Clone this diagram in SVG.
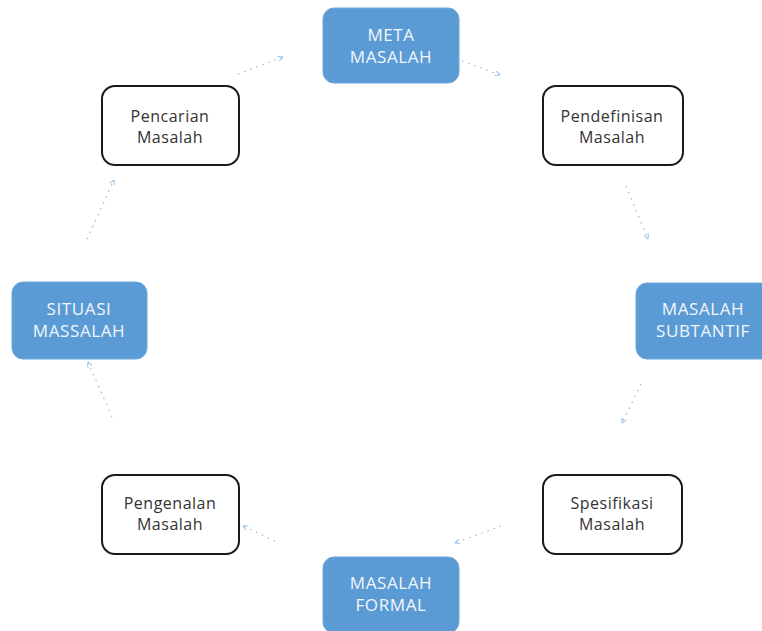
<svg xmlns="http://www.w3.org/2000/svg" width="762" height="631" viewBox="0 0 762 631">
<style>
.blue rect{fill:#5b9bd5;stroke:#6fa8dc;stroke-width:1}
.blue text{fill:#f2f6fb;font-family:"Open Sans","Liberation Sans",sans-serif;font-size:17px;text-anchor:middle;letter-spacing:0.6px}
.white rect{fill:#fff;stroke:#1a1a1a;stroke-width:2}
.white text{fill:#333;font-family:"Open Sans","Liberation Sans",sans-serif;font-size:16px;text-anchor:middle;letter-spacing:0.5px}
#connectors path{fill:none;stroke:#8fb8e3;stroke-width:1.2;stroke-dasharray:1.5 5;marker-end:url(#ah)}
</style>
<defs>
<marker id="ah" viewBox="0 0 10 10" refX="9" refY="5" markerWidth="6" markerHeight="6" orient="auto" markerUnits="userSpaceOnUse">
<path d="M1,1 L9,5 L1,9" fill="none" stroke="#8fb8e3" stroke-width="1.5"/>
</marker>
</defs>
<rect width="762" height="631" fill="#fff"/>
<g id="connectors">
<path d="M238,74 L283,57"/>
<path d="M462,61 L500,75"/>
<path d="M626,186 L648,239"/>
<path d="M641,384 L622,423"/>
<path d="M501,526 L455,543"/>
<path d="M275,541 L243,526"/>
<path d="M112,417 L88,362"/>
<path d="M87,239 L114,180"/>
</g>
<g id="meta" class="blue"><rect x="323" y="8" width="136" height="75" rx="11"/><text x="391" y="41">META</text><text x="391" y="63">MASALAH</text></g>
<g id="pencarian" class="white"><rect x="102" y="86" width="137" height="79" rx="13"/><text x="170" y="121.5">Pencarian</text><text x="170" y="142.5">Masalah</text></g>
<g id="pendefinisan" class="white"><rect x="543" y="86" width="140" height="79" rx="13"/><text x="612" y="121.5">Pendefinisan</text><text x="612" y="142.5">Masalah</text></g>
<g id="subtantif" class="blue"><rect x="636" y="283" width="136" height="76" rx="11"/><text x="703" y="315">MASALAH</text><text x="703" y="337">SUBTANTIF</text></g>
<g id="spesifikasi" class="white"><rect x="543" y="475" width="139" height="79" rx="13"/><text x="612" y="509">Spesifikasi</text><text x="612" y="530">Masalah</text></g>
<g id="formal" class="blue"><rect x="323" y="557" width="136" height="76" rx="11"/><text x="391" y="589">MASALAH</text><text x="391" y="611">FORMAL</text></g>
<g id="pengenalan" class="white"><rect x="102" y="475" width="137" height="79" rx="13"/><text x="170" y="509">Pengenalan</text><text x="170" y="530">Masalah</text></g>
<g id="situasi" class="blue"><rect x="12" y="282" width="135" height="77" rx="11"/><text x="79" y="315">SITUASI</text><text x="79" y="337">MASSALAH</text></g>
</svg>
